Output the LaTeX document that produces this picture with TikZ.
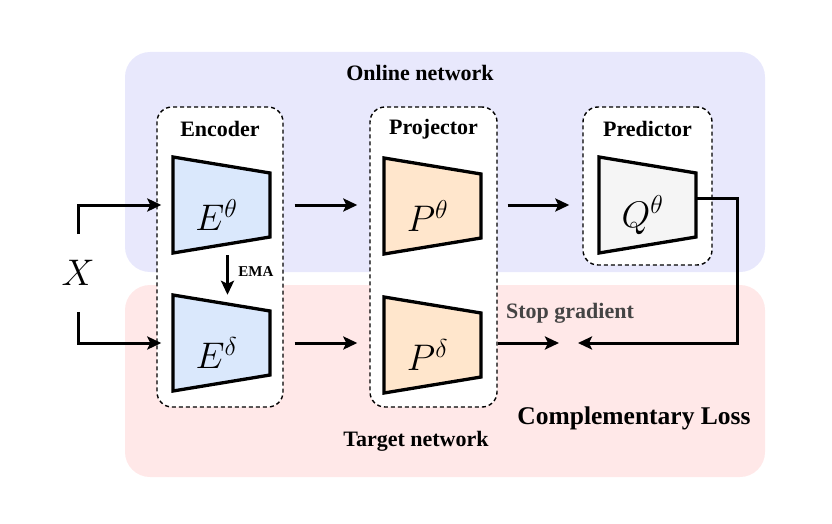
\RequirePackage{fix-cm}
\documentclass[tikz,border=0pt]{standalone}
\usepackage{fontspec}
\setmainfont{Liberation Serif}
\usetikzlibrary{positioning,arrows.meta}

\definecolor{onlinebg}{HTML}{E8E8FC}
\definecolor{targetbg}{HTML}{FFE8E8}
\definecolor{encfill}{HTML}{DAE8FC}
\definecolor{projfill}{HTML}{FFE6CC}
\definecolor{predfill}{HTML}{F5F5F5}
\definecolor{sgtext}{HTML}{444444}

% trapezoid block: centre x, centre y, fill, name, label
\newcommand{\trapnode}[5]{%
  \filldraw[trapline, fill=#3] ({#1-48.5},{#2-48}) -- ({#1+48.5},{#2-32})
    -- ({#1+48.5},{#2+32}) -- ({#1-48.5},{#2+48}) -- cycle;
  \node[trap] (#4) at (#1,#2) {};
  \node[mathlbl] (#4-lbl) at ([xshift=-5pt, yshift=-10pt]#4) {#5};
}

\begin{document}
\begin{tikzpicture}[
  x=1pt, y=-1pt,
  region/.style={rounded corners=25pt},
  group/.style={draw, dash pattern=on 4pt off 3pt, line width=1.4pt, rounded corners=15pt, fill=white},
  trapline/.style={line width=3.3pt, line join=miter},
  trap/.style={minimum width=97pt, minimum height=96pt, inner sep=0pt},
  mathlbl/.style={inner sep=0pt, font=\fontsize{37}{42}\selectfont},
  title/.style={font=\fontsize{22}{26}\selectfont\bfseries},
  arr/.style={-{Stealth[length=14pt, width=13pt, inset=3pt]}, line width=3pt}
]
\useasboundingbox (0,0) rectangle (832,524);

% background regions
\fill[region, onlinebg] (125,52) rectangle (765,272);
\fill[region, targetbg] (125,285) rectangle (765,477);

% dashed groups
\node[group, minimum width=126pt, minimum height=300pt] (enc) at (220,257) {};
\node[group, minimum width=127pt, minimum height=300pt] (proj) at (433.5,257) {};
\node[group, minimum width=129pt, minimum height=158pt] (pred) at (647.5,186) {};

\node[title] (enc-title) at ([yshift=-23pt]enc.north) {Encoder};
\node[title] (proj-title) at ([yshift=-23pt]proj.north) {Projector};
\node[title] (pred-title) at ([yshift=-23pt]pred.north) {Predictor};

% blocks
\trapnode{221.5}{205}{encfill}{Et}{$E^\theta$}
\trapnode{221.5}{343}{encfill}{Ed}{$E^\delta$}
\trapnode{432.5}{206}{projfill}{Pt}{$P^\theta$}
\trapnode{432.5}{345}{projfill}{Pd}{$P^\delta$}
\trapnode{647.5}{205}{predfill}{Qt}{$Q^\theta$}

% input
\node[mathlbl] (X) at (78,273) {$X$};
\coordinate (meet) at (568,343);
\coordinate (fb) at (737,343);

\draw[arr, shorten >=-5pt] ([yshift=26pt]X.north) |- (enc.west |- Et);
\draw[arr, shorten >=-5pt] ([yshift=-26pt]X.south) |- (enc.west |- Ed);

% online branch
\draw[arr, shorten <=11pt, shorten >=12pt] (enc.east |- Et) -- (proj.west |- Et);
\draw[arr, shorten <=10pt, shorten >=13pt] (proj.east |- Et) -- (pred.west |- Et);

% target branch
\draw[arr, shorten <=11pt, shorten >=12pt] (enc.east |- Ed) -- (proj.west |- Ed);
\draw[arr, shorten >=9pt] (proj.east |- Ed) -- (meet);
\draw[arr, shorten >=10pt] ([yshift=7pt]Qt.east) -| (fb) -- (meet);

% EMA update
\draw[arr, shorten <=2pt] ([xshift=6pt]Et.south) -- ([xshift=6pt]Ed.north)
  node[pos=0.45, right=6pt, font=\fontsize{15}{18}\selectfont\bfseries] (ema) {EMA};

% labels
\node[title] (online-lbl) at (420,73) {Online network};
\node[title] (target-lbl) at (416,441) {Target network};
\node[title, text=sgtext] (sg-lbl) at (570,313) {Stop gradient};
\node[font=\fontsize{25.5}{30}\selectfont\bfseries] (loss-lbl) at (634,418) {Complementary Loss};
\end{tikzpicture}
\end{document}
